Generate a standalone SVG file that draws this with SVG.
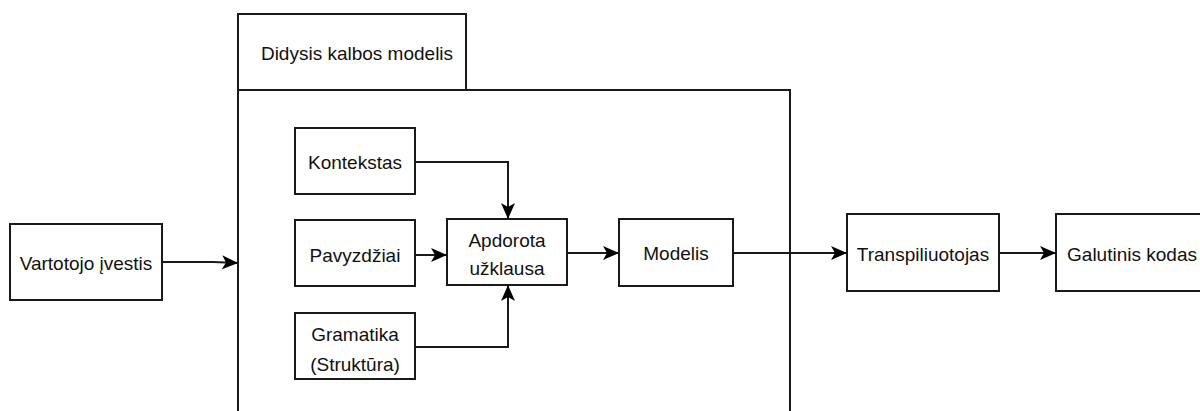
<svg xmlns="http://www.w3.org/2000/svg" width="1200" height="411" viewBox="0 0 1200 411">
<style>
.n{fill:#fff;stroke:#1a1a1a;stroke-width:2}
.t{font-family:"Liberation Sans",Arial,sans-serif;font-size:19px;fill:#111;text-anchor:middle;dominant-baseline:central}
.c{fill:none;stroke:#1a1a1a;stroke-width:2}
</style>
<defs>
<marker id="a" markerWidth="18" markerHeight="18" refX="16" refY="8" orient="auto" markerUnits="userSpaceOnUse">
<path d="M0,1 L16,8 L0,15 L4,8 Z" fill="#000"/>
</marker>
</defs>
<rect width="1200" height="411" fill="#fff"/>
<g id="container">
<rect class="n" x="238" y="14" width="228" height="76"/>
<text class="t" x="357" y="53">Didysis kalbos modelis</text>
<path class="n" d="M238,420 L238,90 L790,90 L790,420"/>
</g>
<g id="vartotojo"><rect class="n" x="10" y="224" width="152" height="76"/><text class="t" x="86" y="263">Vartotojo įvestis</text></g>
<g id="kontekstas"><rect class="n" x="295" y="128" width="120" height="66"/><text class="t" x="355" y="162">Kontekstas</text></g>
<g id="pavyzdziai"><rect class="n" x="295" y="220" width="120" height="66"/><text class="t" x="355" y="255">Pavyzdžiai</text></g>
<g id="gramatika"><rect class="n" x="295" y="313" width="120" height="66"/><text class="t" x="355" y="334">Gramatika</text><text class="t" x="355" y="364">(Struktūra)</text></g>
<g id="apdorota"><rect class="n" x="447" y="219" width="120" height="66"/><text class="t" x="507" y="240">Apdorota</text><text class="t" x="507" y="268">užklausa</text></g>
<g id="modelis"><rect class="n" x="619" y="219" width="114" height="67"/><text class="t" x="676" y="253">Modelis</text></g>
<g id="transpiliuotojas"><rect class="n" x="847" y="214" width="152" height="77"/><text class="t" x="923" y="254">Transpiliuotojas</text></g>
<g id="galutinis"><rect class="n" x="1056" y="214" width="152" height="77"/><text class="t" x="1132" y="254">Galutinis kodas</text></g>
<g id="connectors">
<path class="c" d="M162,262 L213,262 L238,263" marker-end="url(#a)"/>
<path class="c" d="M415,162 L508,162 L508,219" marker-end="url(#a)"/>
<path class="c" d="M415,255 L447,255" marker-end="url(#a)"/>
<path class="c" d="M415,347 L508,347 L508,285" marker-end="url(#a)"/>
<path class="c" d="M567,253 L619,253" marker-end="url(#a)"/>
<path class="c" d="M733,253 L847,253" marker-end="url(#a)"/>
<path class="c" d="M999,253 L1056,253" marker-end="url(#a)"/>
</g>
</svg>
